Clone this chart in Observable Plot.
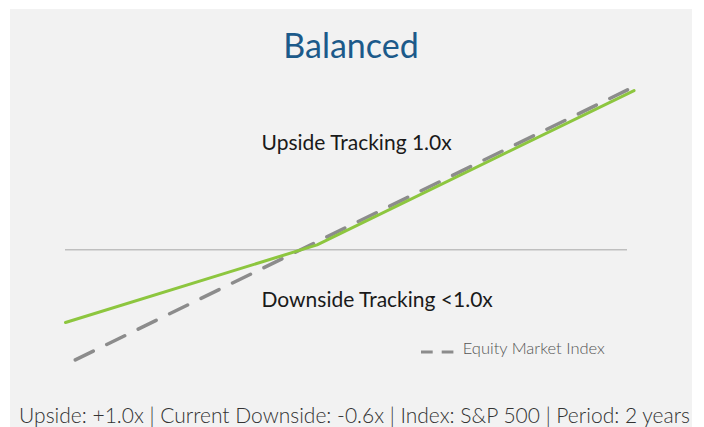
<!DOCTYPE html>
<html><head><meta charset="utf-8">
<script src="https://cdn.jsdelivr.net/npm/d3@7"></script>
<script src="https://cdn.jsdelivr.net/npm/@observablehq/plot@0.6"></script>
<style>
html,body{margin:0;padding:0;background:#fff;}
#panel{position:absolute;left:10px;top:9px;width:682px;height:418px;background:#f2f2f2;font-family:Lato,sans-serif;overflow:hidden}
#title{position:absolute;left:0;width:100%;top:18.8px;text-align:center;font-size:34px;line-height:34px;color:#1c5a8a;white-space:nowrap}
#chart{position:absolute;left:0;top:0}
#legsvg{position:absolute;left:411px;top:339.7px}
#legtext{position:absolute;left:452.7px;top:331.4px;font-size:16.5px;line-height:16.5px;font-weight:300;color:#555;white-space:nowrap}
#caption{position:absolute;left:3.5px;width:100%;top:395.4px;text-align:center;font-size:21px;line-height:21px;font-weight:300;color:#333;white-space:nowrap}
</style></head>
<body>
<div id="panel">
  <div id="chart"></div>
  <div id="title"></div>
  <svg id="legsvg" width="33" height="6"><line id="legline" x1="0" x2="33" y1="3" y2="3" stroke="#8c8c8c" stroke-width="3" stroke-dasharray="11.7 9"></line></svg>
  <div id="legtext"></div>
  <div id="caption"></div>
</div>
<script>
// Data
const titleText = "Balanced";
const legendLabel = "Equity Market Index";
const captionText = "Upside: +1.0x | Current Downside: -0.6x | Index: S&P 500 | Period: 2 years";
// Equity market index (dashed): return vs market return
const marketX = [-34.5, 50];
const marketY = [-34.5, 50];
// Balanced strategy (green)
const portfolioX = [-36, 2.5, 51];
const portfolioY = [-22.8, 1.5, 49.8];
// Annotations (data units)
const labelText = ["Upside Tracking 1.0x", "Downside Tracking <1.0x"];
const labelX = [-6.0, -6.0];
const labelY = [31.3, -18.0];

const market = marketX.map((x, i) => ({x, y: marketY[i]}));
const portfolio = portfolioX.map((x, i) => ({x, y: portfolioY[i]}));
const labels = labelText.map((t, i) => ({t, x: labelX[i], y: labelY[i]}));

document.getElementById("title").textContent = titleText;
document.getElementById("legtext").textContent = legendLabel;
document.getElementById("caption").textContent = captionText;

const chart = Plot.plot({
  width: 682,
  height: 400,
  marginLeft: 55,
  marginRight: 65,
  marginTop: 74,
  marginBottom: 32,
  x: {domain: [-36, 50], axis: null},
  y: {domain: [-40, 52], axis: null},
  style: {background: "transparent", fontFamily: "Lato, sans-serif", overflow: "visible"},
  marks: [
    Plot.ruleY([0], {stroke: "#bfbfbf", strokeWidth: 1.5}),
    Plot.line(market, {x: "x", y: "y", stroke: "#8c8c8c", strokeWidth: 3.5, strokeDasharray: "20 15"}),
    Plot.line(portfolio, {x: "x", y: "y", stroke: "#8dc63f", strokeWidth: 3}),
    Plot.text(labels, {x: "x", y: "y", text: "t", textAnchor: "start", lineAnchor: "bottom", fontSize: 21, fill: "#1a1a1a"})
  ]
});
document.getElementById("chart").appendChild(chart);
</script>
</body></html>
